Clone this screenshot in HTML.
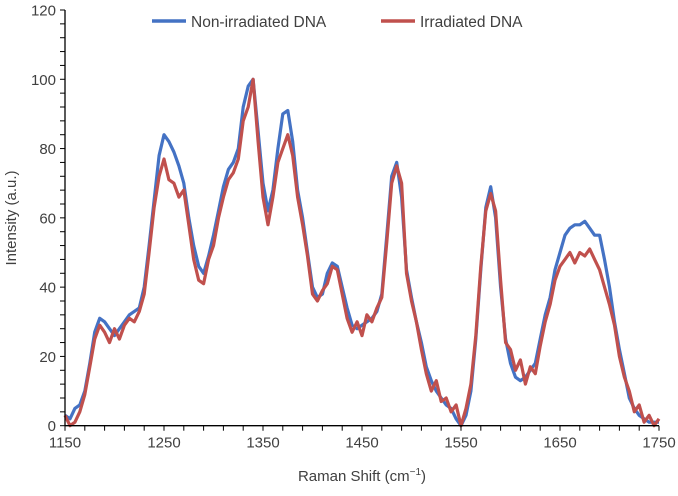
<!DOCTYPE html>
<html><head><meta charset="utf-8"><style>
body{margin:0;background:#fff}
svg{display:block;font-family:"Liberation Sans",sans-serif}
</style></head><body>
<svg id="chart" width="678" height="496" viewBox="0 0 678 496">
<g id="grid"></g>
<g id="series"></g>
<g id="axes"></g>
<g>
<line x1="152" y1="21" x2="186" y2="21" stroke="#4472C4" stroke-width="3.5"/>
<text x="191" y="27" font-size="15.5" fill="#404040">Non-irradiated DNA</text>
<line x1="381" y1="21" x2="415" y2="21" stroke="#C0504D" stroke-width="3.5"/>
<text x="420" y="27" font-size="15.5" fill="#404040">Irradiated DNA</text>
</g>
<text transform="translate(16,218) rotate(-90)" text-anchor="middle" font-size="15" fill="#404040">Intensity (a.u.)</text>
<text x="362" y="481" text-anchor="middle" font-size="15" fill="#404040">Raman Shift (cm<tspan font-size="10" dy="-6">−1</tspan><tspan dy="6">)</tspan></text>
</svg>
<script>
const xs = [1150,1155,1160,1165,1170,1175,1180,1185,1190,1195,1200,1205,1210,1215,1220,1225,1230,1235,1240,1245,1250,1255,1260,1265,1270,1275,1280,1285,1290,1295,1300,1305,1310,1315,1320,1325,1330,1335,1340,1345,1350,1355,1360,1365,1370,1375,1380,1385,1390,1395,1400,1405,1410,1415,1420,1425,1430,1435,1440,1445,1450,1455,1460,1465,1470,1475,1480,1485,1490,1495,1500,1505,1510,1515,1520,1525,1530,1535,1540,1545,1550,1555,1560,1565,1570,1575,1580,1585,1590,1595,1600,1605,1610,1615,1620,1625,1630,1635,1640,1645,1650,1655,1660,1665,1670,1675,1680,1685,1690,1695,1700,1705,1710,1715,1720,1725,1730,1735,1740,1745,1750];
const nonIrradiated = [3,2,5,6,10,18,27,31,30,28,26,28,30,32,33,34,40,52,65,78,84,82,79,75,70,60,52,46,44,49,55,62,69,74,76,80,92,98,100,85,70,62,68,80,90,91,82,68,60,50,40,37,38,44,47,46,40,34,29,28,29,30,31,33,38,55,72,76,66,45,37,30,24,17,13,10,8,6,5,2,0,3,10,25,45,63,69,60,40,25,18,14,13,14,16,18,25,32,37,45,50,55,57,58,58,59,57,55,55,48,40,30,22,15,8,5,3,2,1,1,1];
const irradiated = [3,0,1,4,9,17,25,29,27,24,28,25,29,31,30,33,38,50,63,72,77,71,70,66,68,58,48,42,41,48,52,60,66,71,73,77,88,92,100,82,66,58,66,76,80,84,78,66,58,49,38,36,39,41,46,45,38,31,27,30,26,32,30,34,37,53,70,75,70,44,36,30,22,15,10,13,7,8,4,6,0,5,12,26,46,62,67,62,42,24,22,16,19,12,17,15,23,30,35,42,46,48,50,47,50,49,51,48,45,40,35,29,20,14,10,4,6,1,3,0,2];
const yTicks = [0,20,40,60,80,100,120];
const xTicks = [1150,1250,1350,1450,1550,1650,1750];

const X0=65, X1=659, Y0=425.7, Y1=10;
const sx = v => X0 + (v-1150)/(1750-1150)*(X1-X0);
const sy = v => Y0 - v/120*(Y0-Y1);
const NS='http://www.w3.org/2000/svg';
function mk(tag, attrs, parent){const e=document.createElementNS(NS,tag);for(const k in attrs)e.setAttribute(k,attrs[k]);parent.appendChild(e);return e;}

const series=document.getElementById('series');
function drawLine(vals,color,name){
  const d=vals.map((v,i)=>(i?'L':'M')+sx(xs[i]).toFixed(1)+','+sy(Math.max(0,v)).toFixed(1)).join(' ');
  const p=mk('path',{d:d,fill:'none',stroke:color,'stroke-width':3.2,'stroke-linejoin':'round'},series);
  
  
}
drawLine(nonIrradiated,'#4472C4','line-non-irradiated');
drawLine(irradiated,'#C0504D','line-irradiated');

const axes=document.getElementById('axes');
const ya=mk('line',{x1:X0,y1:Y1,x2:X0,y2:Y0,stroke:'#000','stroke-width':1.3},axes);


const xa=mk('line',{x1:X0,y1:Y0,x2:X1,y2:Y0,stroke:'#000','stroke-width':1.3},axes);


for(let v=0;v<=120;v+=4){mk('line',{x1:X0-5,x2:X0,y1:sy(v),y2:sy(v),stroke:'#000','stroke-width':1},axes);}
for(let v=1150;v<=1750;v+=20){mk('line',{x1:sx(v),x2:sx(v),y1:Y0,y2:Y0+5,stroke:'#000','stroke-width':1},axes);}
yTicks.forEach(v=>{
  const t=mk('text',{x:X0-9,y:sy(v)+5.5,'text-anchor':'end','font-size':15,fill:'#404040'},axes);
  t.textContent=v;
  
  
});
xTicks.forEach(v=>{
  const t=mk('text',{x:sx(v),y:Y0+22,'text-anchor':'middle','font-size':15,fill:'#404040'},axes);
  t.textContent=v;
  
  
});
</script>
</body></html>
